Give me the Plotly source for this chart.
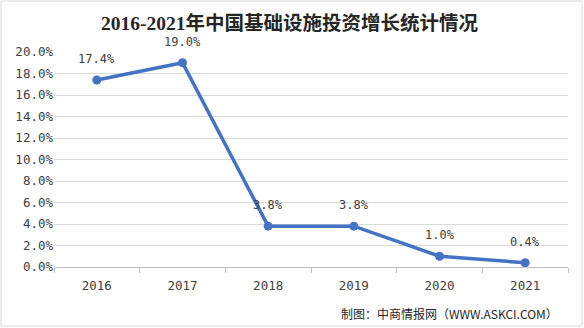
import plotly.graph_objects as go

years = ["2016", "2017", "2018", "2019", "2020", "2021"]
growth = [17.4, 19.0, 3.8, 3.8, 1.0, 0.4]
title_text = "2016-2021年中国基础设施投资增长统计情况"
source_text = "制图：中商情报网（WWW.ASKCI.COM）"

W, H = 584, 328
ml, mr, mt, mb = 54, 16, 52, 61
PW, PH = W - ml - mr, H - mt - mb
num_font = "DejaVu Sans Mono, Noto Sans CJK SC"

fig = go.Figure()
fig.add_trace(go.Scatter(
    x=years, y=growth, mode="lines+markers",
    line=dict(color="#4472C4", width=3.5),
    marker=dict(color="#4472C4", size=9),
    cliponaxis=False,
    hoverinfo="skip",
))

label_annots = [
    dict(x=i, y=v, xref="x", yref="y", text=f"{v:.1f}%", showarrow=False,
         yshift=21, xanchor="center", yanchor="middle",
         font=dict(family=num_font, size=12, color="#404040"))
    for i, v in enumerate(growth)
]

fig.update_layout(
    width=W, height=H,
    margin=dict(l=ml, r=mr, t=mt, b=mb),
    paper_bgcolor="white", plot_bgcolor="white",
    showlegend=False,
    font=dict(family=num_font, size=12, color="#404040"),
    xaxis=dict(
        type="category", showgrid=False, showline=True, linecolor="#BFBFBF",
        ticks="outside", ticklen=5, tickcolor="#BFBFBF", tickson="boundaries",
        ticklabelstandoff=7,
        tickfont=dict(family=num_font, size=12.5, color="#404040"), range=[-0.5, 5.5],
    ),
    yaxis=dict(
        range=[0, 20], dtick=2, tickformat=".1f", ticksuffix="%",
        showgrid=True, gridcolor="#D9D9D9", zeroline=False, showline=False,
        tickfont=dict(family=num_font, size=12.5, color="#404040"),
    ),
    shapes=[dict(type="rect", xref="paper", yref="paper",
                 x0=-(ml - 1) / PW, x1=1 + (mr - 2) / PW,
                 y0=-(mb - 2) / PH, y1=1 + (mt - 1) / PH,
                 line=dict(color="#D9D9D9", width=1))],
    annotations=label_annots + [
        dict(text="<b>" + title_text + "</b>", xref="paper", yref="paper",
             x=(289 - ml) / PW, y=1 + (mt - 23) / PH,
             xanchor="center", yanchor="middle", showarrow=False,
             font=dict(family="Liberation Serif, Noto Sans CJK SC", size=19.5, color="#262626")),
        dict(text=source_text, xref="paper", yref="paper",
             x=(560 - ml) / PW, y=-(313 - (H - mb)) / PH,
             xanchor="right", yanchor="middle", showarrow=False,
             font=dict(family="Noto Sans CJK SC", size=12, color="#262626")),
    ],
)

fig.write_html("out.html")
